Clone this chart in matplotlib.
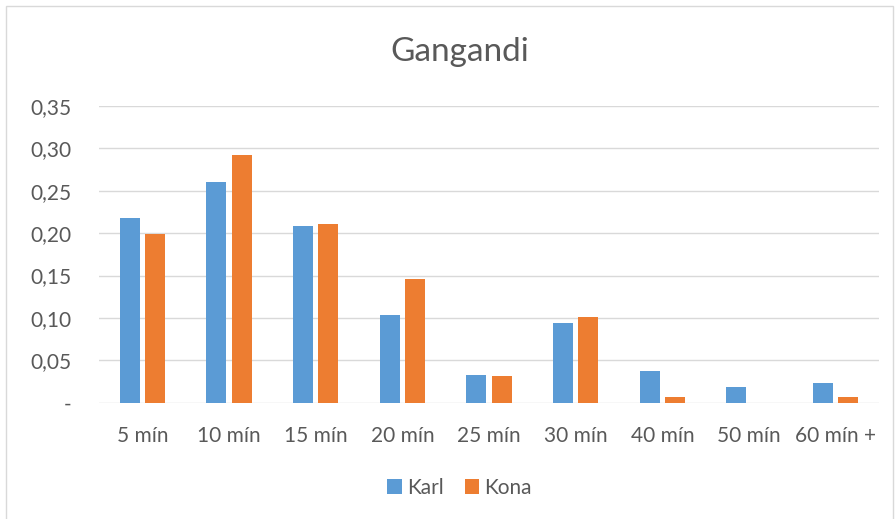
import matplotlib.pyplot as plt
import numpy as np
from matplotlib.ticker import FuncFormatter
from matplotlib.patches import Rectangle

categories = ['5 mín', '10 mín', '15 mín', '20 mín', '25 mín', '30 mín', '40 mín', '50 mín', '60 mín +']
karl = [0.218, 0.260, 0.208, 0.104, 0.033, 0.094, 0.037, 0.018, 0.023]
kona = [0.199, 0.292, 0.211, 0.146, 0.032, 0.101, 0.007, 0.0, 0.007]

plt.rcParams['font.family'] = ['Lato', 'DejaVu Sans']
txt = '#595959'

fig = plt.figure(figsize=(8.96, 5.19), dpi=100)
ax = fig.add_axes([0.1105, 0.224, 0.8705, 0.572])

x = np.arange(len(categories))
w = 0.23
ax.bar(x - 0.145, karl, w, color='#5B9BD5', label='Karl', zorder=3)
ax.bar(x + 0.145, kona, w, color='#ED7D31', label='Kona', zorder=3)

ax.set_xlim(-0.5, len(categories) - 0.5)
ax.set_ylim(0, 0.35)
ax.set_yticks(np.arange(0, 0.351, 0.05))
ax.yaxis.set_major_formatter(FuncFormatter(lambda v, p: '-' if abs(v) < 1e-9 else f'{v:.2f}'.replace('.', ',')))
ax.set_xticks(x)
ax.set_xticklabels(categories)
ax.grid(axis='y', color='#D9D9D9', linewidth=1, zorder=0)
for s in ax.spines.values():
    s.set_visible(False)
ax.tick_params(length=0, labelsize=15, colors=txt)
ax.tick_params(axis='x', pad=17)
ax.tick_params(axis='y', pad=20)

fig.text(0.513, 0.9, 'Gangandi', ha='center', va='center', fontsize=24, color=txt)
fig.legend(loc='center', bbox_to_anchor=(0.513, 0.06), ncol=2, frameon=False,
           fontsize=15, labelcolor=txt, handlelength=0.7, handleheight=0.7,
           handletextpad=0.25, columnspacing=1.0)

fig.patches.append(Rectangle((0.007, -0.01), 0.99, 0.998, transform=fig.transFigure,
                             fill=False, edgecolor='#D9D9D9', linewidth=1))

fig.savefig('out.png', dpi=100)
